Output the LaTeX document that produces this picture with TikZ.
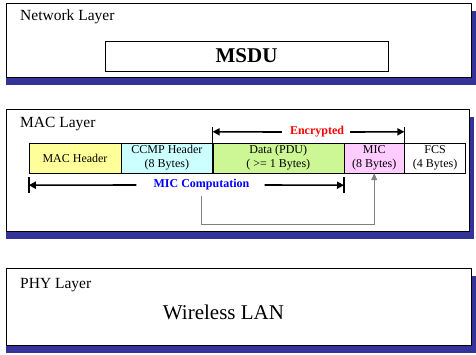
\documentclass[tikz,border=0pt]{standalone}
\usepackage{fontspec}
\setmainfont{Liberation Serif}
\usepackage{tikz}
\usetikzlibrary{arrows.meta, positioning, calc, backgrounds}
\definecolor{shadowblue}{HTML}{333399}
\definecolor{fieldmac}{HTML}{FFFF99}
\definecolor{fieldccmp}{HTML}{CCFFFF}
\definecolor{fielddata}{HTML}{CCF794}
\definecolor{fieldmic}{HTML}{FFCCFF}

\begin{document}
\begin{tikzpicture}[
    x=1pt, y=-1pt,
    >={Triangle[length=7pt, width=7pt]},
    layer/.style={draw, fill=white, inner sep=0pt, minimum width=465, minimum height=#1},
    laytitle/.style={anchor=west, inner sep=0pt, font=\fontsize{15.5}{17}\selectfont},
    field/.style={draw, fill=#1, inner sep=0pt, minimum height=30, align=center, font=\fontsize{12}{14}\selectfont},
    span/.style={line width=1.6pt},
    spanlbl/.style={inner sep=0pt, font=\fontsize{12}{14}\selectfont\bfseries},
]
    \useasboundingbox (0,0) rectangle (476,354);

    % Layer boxes
    \node[layer=74] (net) at (238.5,40) {};
    \node[layer=122, minimum width=463] (mac) at (237.5,170) {};
    \node[layer=77] (phy) at (238.5,306.5) {};

    \begin{scope}[on background layer]
        \foreach \lay in {net, mac, phy}
            \fill[shadowblue] ($(\lay.north west)+(0,8)$) rectangle ($(\lay.south east)+(5,8)$);
    \end{scope}

    \node[laytitle] (nettitle) at (20,17) {Network Layer};
    \node[laytitle] (mactitle) at (20,124) {MAC Layer};
    \node[laytitle] (phytitle) at (20,285) {PHY Layer};

    \node[draw, inner sep=0pt, minimum width=283, minimum height=30, font=\fontsize{21}{24}\selectfont\bfseries] (msdu) at (246.5,56) {MSDU};
    \node[inner sep=0pt, font=\fontsize{21}{24}\selectfont] (wlan) at (223.5,312) {Wireless LAN};

    % MPDU fields
    \node[field=fieldmac, minimum width=92] (machdr) at (75,158) {MAC Header};
    \node[field=fieldccmp, minimum width=91, right=0pt of machdr] (ccmp) {CCMP Header\\(8 Bytes)};
    \node[field=fielddata, minimum width=131, right=0pt of ccmp] (data) {Data (PDU)\\( >= 1 Bytes)};
    \node[field=fieldmic, minimum width=60, right=0pt of data] (mic) {MIC\\(8 Bytes)};
    \node[field=white, minimum width=61, right=0pt of mic] (fcs) {FCS\\(4 Bytes)};

    % Encrypted span
    \node[spanlbl, text=red] (enctxt) at (317,132) {Encrypted};
    \coordinate (encL) at ($(data.north west)+(0,-11)$);
    \coordinate (encR) at ($(mic.north east)+(0,-11)$);
    \draw[span] (data.north west) -- ++(0,-16);
    \draw[span] (mic.north east) -- ++(0,-16);
    \draw[span, ->] ($(enctxt.west)+(-8,0)$) -- (encL);
    \draw[span, ->] ($(enctxt.east)+(6,0)$) -- (encR);

    % MIC computation span
    \node[spanlbl, text=blue] (mictxt) at (201.5,185) {MIC Computation};
    \coordinate (micL) at ($(machdr.south west)+(0,12)$);
    \coordinate (micR) at ($(data.south east)+(0,12)$);
    \draw[span] ($(micL)+(0,-8)$) -- ++(0,16);
    \draw[span] ($(micR)+(0,-8)$) -- ++(0,16);
    \draw[span, ->] ($(mictxt.west)+(-17,0)$) -- (micL);
    \draw[span, ->] ($(mictxt.east)+(15,0)$) -- (micR);

    \draw[gray, line width=0.8pt, -{Triangle[length=7pt, width=6pt]}] ($(mictxt.south)+(0,5)$) -- ++(0,29) -| (mic.south);
\end{tikzpicture}
\end{document}
